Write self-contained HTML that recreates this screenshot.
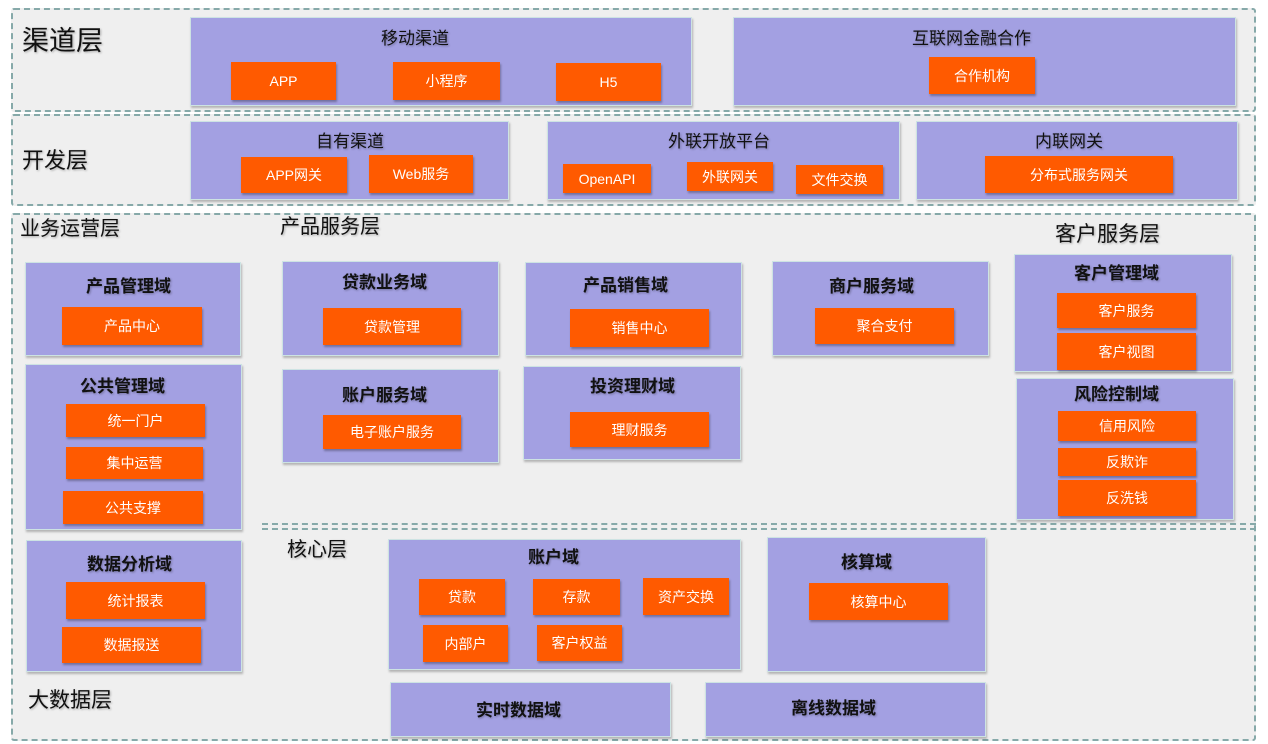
<!DOCTYPE html>
<html><head><meta charset="utf-8"><style>
body{margin:0;width:1268px;height:744px;background:#fff;position:relative;overflow:hidden;font-family:"Liberation Sans","Noto Sans CJK SC",sans-serif;}
.L{position:absolute;background:#efefef;border:2px dashed #86a9a9;border-radius:3px;box-sizing:border-box;}
.P{position:absolute;background:#a3a0e2;border:1px solid #cde3e3;box-sizing:border-box;box-shadow:1px 2px 2px rgba(0,0,0,.25);}
.O{position:absolute;background:#ff5a00;color:#fff;font-size:14px;display:flex;align-items:center;justify-content:center;box-shadow:1px 2px 2px rgba(0,0,0,.3);}
.T{position:absolute;font-size:17px;color:#111;white-space:nowrap;text-shadow:1px 1px 2px rgba(0,0,0,.3);margin-top:-4px;}
.B{font-weight:bold;}
.H{position:absolute;color:#111;white-space:nowrap;text-shadow:1px 1px 2px rgba(0,0,0,.3);margin-top:-3px;}
</style></head><body>
<div class="L" style="left:11px;top:8px;width:1245px;height:104px"></div>
<div class="L" style="left:11px;top:114px;width:1245px;height:92px"></div>
<div class="L" style="left:11px;top:213px;width:1245px;height:528px"></div>
<div style="position:absolute;left:262px;top:523px;width:994px;border-top:2px dashed #86a9a9"></div>
<div style="position:absolute;left:262px;top:528px;width:994px;border-top:2px dashed #86a9a9"></div>

<div class="H" style="left:22px;top:22px;font-size:27px">渠道层</div>
<div class="H" style="left:22px;top:146px;font-size:22px">开发层</div>
<div class="H" style="left:20px;top:215px;font-size:20px">业务运营层</div>
<div class="H" style="left:280px;top:213px;font-size:20px">产品服务层</div>
<div class="H" style="left:1055px;top:221px;font-size:21px">客户服务层</div>
<div class="H" style="left:287px;top:536px;font-size:20px">核心层</div>
<div class="H" style="left:28px;top:687px;font-size:21px">大数据层</div>

<div class="P" style="left:190px;top:17px;width:502px;height:89px"></div>
<div class="T" style="left:381px;top:28px">移动渠道</div>
<div class="O" style="left:231px;top:62px;width:105px;height:38px">APP</div>
<div class="O" style="left:393px;top:62px;width:107px;height:38px">小程序</div>
<div class="O" style="left:556px;top:63px;width:105px;height:38px">H5</div>

<div class="P" style="left:733px;top:17px;width:503px;height:89px"></div>
<div class="T" style="left:912px;top:28px">互联网金融合作</div>
<div class="O" style="left:929px;top:57px;width:106px;height:37px">合作机构</div>

<div class="P" style="left:190px;top:121px;width:319px;height:79px"></div>
<div class="T" style="left:316px;top:131px">自有渠道</div>
<div class="O" style="left:241px;top:157px;width:106px;height:36px">APP网关</div>
<div class="O" style="left:369px;top:155px;width:104px;height:38px">Web服务</div>

<div class="P" style="left:547px;top:121px;width:353px;height:79px"></div>
<div class="T" style="left:668px;top:131px">外联开放平台</div>
<div class="O" style="left:563px;top:164px;width:88px;height:29px">OpenAPI</div>
<div class="O" style="left:687px;top:162px;width:86px;height:29px">外联网关</div>
<div class="O" style="left:796px;top:165px;width:87px;height:29px">文件交换</div>

<div class="P" style="left:916px;top:121px;width:322px;height:79px"></div>
<div class="T" style="left:1035px;top:131px">内联网关</div>
<div class="O" style="left:985px;top:156px;width:188px;height:37px">分布式服务网关</div>

<div class="P" style="left:25px;top:262px;width:216px;height:94px"></div>
<div class="T B" style="left:86px;top:276px">产品管理域</div>
<div class="O" style="left:62px;top:307px;width:140px;height:38px">产品中心</div>

<div class="P" style="left:25px;top:364px;width:217px;height:166px"></div>
<div class="T B" style="left:80px;top:376px">公共管理域</div>
<div class="O" style="left:66px;top:404px;width:139px;height:33px">统一门户</div>
<div class="O" style="left:66px;top:447px;width:137px;height:32px">集中运营</div>
<div class="O" style="left:63px;top:491px;width:140px;height:33px">公共支撑</div>

<div class="P" style="left:26px;top:540px;width:216px;height:132px"></div>
<div class="T B" style="left:87px;top:554px">数据分析域</div>
<div class="O" style="left:66px;top:582px;width:139px;height:37px">统计报表</div>
<div class="O" style="left:62px;top:627px;width:139px;height:36px">数据报送</div>

<div class="P" style="left:282px;top:261px;width:217px;height:95px"></div>
<div class="T B" style="left:342px;top:272px">贷款业务域</div>
<div class="O" style="left:323px;top:308px;width:138px;height:37px">贷款管理</div>

<div class="P" style="left:282px;top:369px;width:217px;height:94px"></div>
<div class="T B" style="left:342px;top:385px">账户服务域</div>
<div class="O" style="left:323px;top:415px;width:138px;height:34px">电子账户服务</div>

<div class="P" style="left:525px;top:262px;width:217px;height:94px"></div>
<div class="T B" style="left:583px;top:275px">产品销售域</div>
<div class="O" style="left:570px;top:309px;width:139px;height:38px">销售中心</div>

<div class="P" style="left:523px;top:366px;width:218px;height:94px"></div>
<div class="T B" style="left:590px;top:376px">投资理财域</div>
<div class="O" style="left:570px;top:412px;width:139px;height:35px">理财服务</div>

<div class="P" style="left:772px;top:261px;width:217px;height:95px"></div>
<div class="T B" style="left:829px;top:276px">商户服务域</div>
<div class="O" style="left:815px;top:308px;width:139px;height:36px">聚合支付</div>

<div class="P" style="left:1014px;top:254px;width:218px;height:118px"></div>
<div class="T B" style="left:1074px;top:263px">客户管理域</div>
<div class="O" style="left:1057px;top:293px;width:139px;height:35px">客户服务</div>
<div class="O" style="left:1057px;top:333px;width:139px;height:37px">客户视图</div>

<div class="P" style="left:1016px;top:378px;width:218px;height:142px"></div>
<div class="T B" style="left:1074px;top:384px">风险控制域</div>
<div class="O" style="left:1058px;top:411px;width:138px;height:30px">信用风险</div>
<div class="O" style="left:1058px;top:448px;width:138px;height:28px">反欺诈</div>
<div class="O" style="left:1058px;top:480px;width:138px;height:36px">反洗钱</div>

<div class="P" style="left:388px;top:539px;width:353px;height:131px"></div>
<div class="T B" style="left:528px;top:547px">账户域</div>
<div class="O" style="left:419px;top:579px;width:86px;height:36px">贷款</div>
<div class="O" style="left:533px;top:579px;width:87px;height:36px">存款</div>
<div class="O" style="left:643px;top:578px;width:86px;height:37px">资产交换</div>
<div class="O" style="left:423px;top:625px;width:85px;height:37px">内部户</div>
<div class="O" style="left:537px;top:625px;width:85px;height:36px">客户权益</div>

<div class="P" style="left:767px;top:537px;width:219px;height:135px"></div>
<div class="T B" style="left:841px;top:552px">核算域</div>
<div class="O" style="left:809px;top:583px;width:139px;height:37px">核算中心</div>

<div class="P" style="left:390px;top:682px;width:281px;height:55px"></div>
<div class="T B" style="left:476px;top:700px">实时数据域</div>
<div class="P" style="left:705px;top:682px;width:281px;height:55px"></div>
<div class="T B" style="left:791px;top:698px">离线数据域</div>
</body></html>
